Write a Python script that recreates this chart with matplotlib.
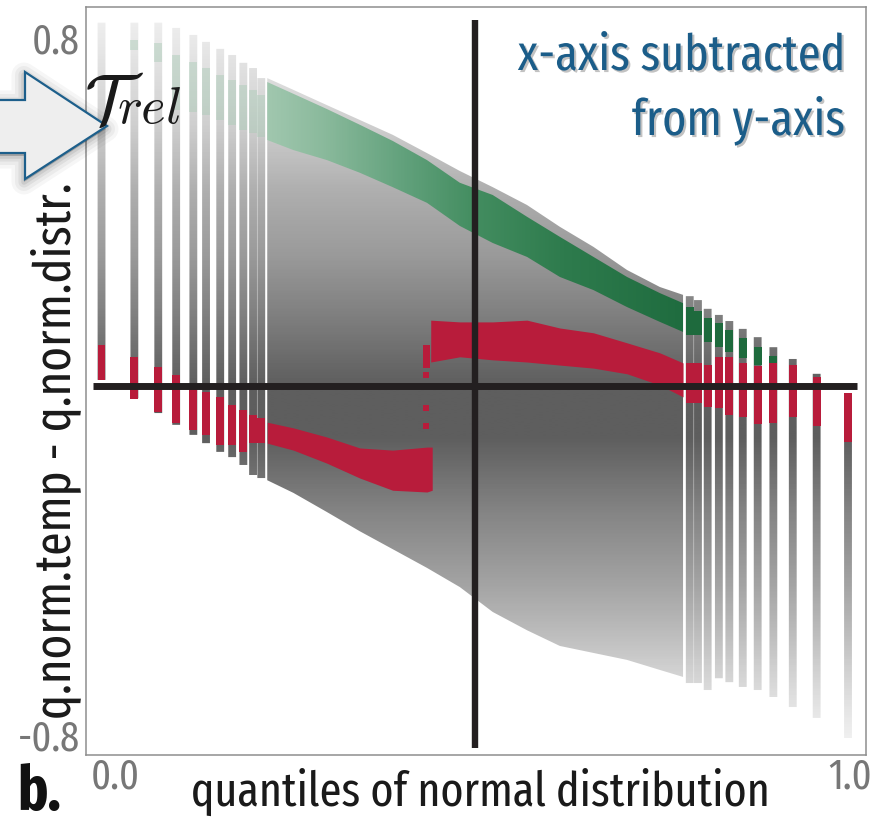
import numpy as np
import matplotlib
matplotlib.use("Agg")
import matplotlib.pyplot as plt
from matplotlib.colors import LinearSegmentedColormap, Normalize
from matplotlib.path import Path
from matplotlib.patches import Polygon
from matplotlib import patheffects as pe
from matplotlib import font_manager as fm

nan = np.nan

# ---------------- data ----------------
# discrete tail columns on the left (quantile position, value range)
left_x = [0.000, 0.044, 0.076, 0.100, 0.123, 0.140, 0.159, 0.175, 0.190, 0.203, 0.214]
left_top = [0.833, 0.833, 0.833, 0.821, 0.805, 0.789, 0.773, 0.759, 0.741, 0.729, 0.706]
left_bottom = [0.014, -0.028, -0.062, -0.089, -0.112, -0.131, -0.151, -0.163, -0.181, -0.204, -0.211]
left_green_top = [nan, 0.794, 0.787, 0.759, 0.743, 0.729, 0.713, 0.702, 0.690, 0.679, 0.667]
left_green_bottom = [nan, 0.771, 0.743, 0.633, 0.628, 0.622, 0.610, 0.599, 0.587, 0.580, 0.571]
left_red_top = [0.094, 0.067, 0.044, 0.025, 0.002, -0.014, -0.025, -0.044, -0.055, -0.067, -0.073]
left_red_bottom = [0.014, -0.030, -0.060, -0.085, -0.101, -0.112, -0.135, -0.135, -0.151, -0.131, -0.131]

# continuous central region
mid_x = [0.222, 0.257, 0.302, 0.346, 0.390, 0.436, 0.480, 0.524, 0.570, 0.614, 0.659, 0.704, 0.748, 0.779]
mid_top = [0.706, 0.679, 0.644, 0.610, 0.576, 0.534, 0.493, 0.456, 0.415, 0.365, 0.319, 0.266, 0.227, 0.209]
mid_bottom = [-0.216, -0.245, -0.289, -0.333, -0.374, -0.417, -0.461, -0.518, -0.560, -0.596, -0.612, -0.628, -0.651, -0.667]
mid_green_top = [0.697, 0.670, 0.635, 0.599, 0.562, 0.518, 0.466, 0.438, 0.388, 0.342, 0.296, 0.250, 0.213, 0.190]
mid_green_bottom = [0.564, 0.541, 0.518, 0.489, 0.456, 0.420, 0.367, 0.328, 0.296, 0.250, 0.220, 0.181, 0.147, 0.124]

# red band: lower branch, jump, upper branch
red_lo_x = [0.222, 0.257, 0.302, 0.346, 0.390, 0.436, 0.443]
red_lo_top = [-0.083, -0.096, -0.117, -0.142, -0.147, -0.140, -0.140]
red_lo_bottom = [-0.131, -0.147, -0.177, -0.211, -0.239, -0.243, -0.239]
red_jump_x = 0.435
red_jump_top = 0.094
red_jump_bottom = 0.041
red_jump_dots = [0.025, -0.050, -0.092]
red_hi_x = [0.441, 0.480, 0.524, 0.570, 0.614, 0.659, 0.704, 0.748, 0.779]
red_hi_top = [0.151, 0.147, 0.147, 0.151, 0.133, 0.122, 0.099, 0.076, 0.053]
red_hi_bottom = [0.055, 0.067, 0.060, 0.055, 0.048, 0.041, 0.028, 0.002, -0.025]

# discrete tail columns on the right
right_x = [0.788, 0.799, 0.812, 0.827, 0.841, 0.859, 0.879, 0.900, 0.926, 0.958, 1.000]
right_top = [0.206, 0.197, 0.177, 0.163, 0.149, 0.131, 0.112, 0.089, 0.062, 0.028, -0.016]
right_bottom = [-0.681, -0.681, -0.697, -0.670, -0.679, -0.690, -0.697, -0.713, -0.736, -0.761, -0.807]
right_green_top = [0.181, 0.172, 0.156, 0.144, 0.128, 0.110, 0.089, 0.069, nan, nan, nan]
right_green_bottom = [0.117, 0.117, 0.101, 0.089, 0.078, 0.064, 0.048, 0.053, nan, nan, nan]
right_red_top = [0.053, 0.053, 0.048, 0.067, 0.067, 0.053, 0.046, 0.053, 0.048, 0.021, -0.016]
right_red_bottom = [-0.039, -0.039, -0.048, -0.050, -0.067, -0.071, -0.087, -0.085, -0.071, -0.092, -0.128]

y_ticks = [-0.8, 0.8]
y_tick_labels = ["-0.8", "0.8"]
x_tick_labels = ["0.0", "1.0"]

# ---------------- style ----------------
names = {f.name for f in fm.fontManager.ttflist}
COND = "DejaVu Sans"
for cand in ("Fira Sans Extra Condensed", "Fira Sans Condensed", "PT Sans Narrow",
             "Roboto Condensed", "Archivo Narrow", "Asap Condensed"):
    if cand in names:
        COND = cand
        break
plt.rcParams["font.family"] = [COND, "DejaVu Sans"]

W, H = 883, 821
fig = plt.figure(figsize=(W / 100, H / 100), dpi=100)
renderer = fig.canvas.get_renderer()


def fx(px):
    return px / W


def fy(py):
    return 1 - py / H


def fit(t, target_px, along="width"):
    """Scale a text's font size so its extent spans target_px pixels."""
    bb = t.get_window_extent(renderer)
    cur = bb.width if along == "width" else bb.height
    t.set_fontsize(t.get_fontsize() * target_px / cur)
    return t


def stop_cmap(name, stops):
    lo, hi = stops[0][0], stops[-1][0]
    cmap = LinearSegmentedColormap.from_list(name, [((v - lo) / (hi - lo), c) for v, c in stops])
    return cmap, Normalize(lo, hi)


ax = fig.add_axes([fx(86), fy(755), fx(866) - fx(86), fy(7) - fy(755)])
XMIN, XMAX = -0.0208, 1.0241
YMIN, YMAX = -0.846, 0.869
ax.set_xlim(XMIN, XMAX)
ax.set_ylim(YMIN, YMAX)
for s in ax.spines.values():
    s.set_color("#8e8e8e")
    s.set_linewidth(1.1)

COLW = 0.0105
RED = "#b81c3b"

# grey density shading, clipped to the columns and the central region
grey_stops = [(-0.85, "#f6f6f6"), (-0.75, "#e6e6e6"), (-0.65, "#d0d0d0"), (-0.55, "#b8b8b8"),
              (-0.45, "#a2a2a2"), (-0.30, "#868686"), (-0.12, "#5e5e5e"), (0.00, "#5e5e5e"),
              (0.15, "#7d7d7d"), (0.30, "#9a9a9a"), (0.45, "#afafaf"), (0.60, "#cfcfcf"),
              (0.75, "#e3e3e3"), (0.87, "#f3f3f3")]
grey_cmap, grey_norm = stop_cmap("dens", grey_stops)

col_x = np.array(left_x + right_x)
col_top = np.array(left_top + right_top)
col_bot = np.array(left_bottom + right_bottom)
bars = ax.bar(col_x, col_top - col_bot, bottom=col_bot, width=COLW, color="none", lw=0)
mid_poly = ax.fill_between(mid_x, mid_bottom, mid_top, color="none", lw=0)

paths = [r.get_patch_transform().transform_path(r.get_path()) for r in bars]
paths.append(mid_poly.get_paths()[0])
clip = Path.make_compound_path(*paths)

yy = np.linspace(YMIN, YMAX, 600)[:, None]
im = ax.imshow(yy, extent=[XMIN, XMAX, YMIN, YMAX], origin="lower", aspect="auto",
               cmap=grey_cmap, norm=grey_norm, interpolation="bilinear", zorder=1)
im.set_clip_path(clip, ax.transData)

# green band
green_stops = [(0.20, "#a7cbb4"), (0.30, "#89b99b"), (0.40, "#63a27d"), (0.50, "#438d60"),
               (0.62, "#2e7b4d"), (0.78, "#1f6c3f"), (1.00, "#1c663a")]
green_cmap, green_norm = stop_cmap("grn", green_stops)
g_poly = ax.fill_between(mid_x, mid_green_bottom, mid_green_top, color="none", lw=0)
xx = np.linspace(XMIN, XMAX, 600)[None, :]
gim = ax.imshow(xx, extent=[XMIN, XMAX, YMIN, YMAX], origin="lower", aspect="auto",
                cmap=green_cmap, norm=green_norm, interpolation="bilinear", zorder=2)
gim.set_clip_path(g_poly.get_paths()[0], ax.transData)

lg_t, lg_b = np.array(left_green_top), np.array(left_green_bottom)
m = ~np.isnan(lg_t)
ax.bar(np.array(left_x)[m], (lg_t - lg_b)[m], bottom=lg_b[m], width=COLW,
       color="#a9cbb6", alpha=0.45, lw=0, zorder=2)
rg_t, rg_b = np.array(right_green_top), np.array(right_green_bottom)
m = ~np.isnan(rg_t)
ax.bar(np.array(right_x)[m], (rg_t - rg_b)[m], bottom=rg_b[m], width=COLW,
       color="#1e6a3d", lw=0, zorder=2)

# red band
ax.fill_between(red_lo_x, red_lo_bottom, red_lo_top, color=RED, lw=0, zorder=3)
ax.fill_between(red_hi_x, red_hi_bottom, red_hi_top, color=RED, lw=0, zorder=3)
ax.bar([red_jump_x], [red_jump_top - red_jump_bottom], bottom=[red_jump_bottom],
       width=0.009, color=RED, lw=0, zorder=3)
ax.scatter([red_jump_x] * len(red_jump_dots), red_jump_dots, marker="s", s=24,
           color=RED, lw=0, zorder=3)
for xs, t, b in ((left_x, left_red_top, left_red_bottom), (right_x, right_red_top, right_red_bottom)):
    t, b = np.array(t), np.array(b)
    ax.bar(xs, t - b, bottom=b, width=COLW, color=RED, lw=0, zorder=3)

# reference cross
ax.plot([-0.011, 1.012], [0, 0], color="#231f20", lw=5.0, solid_capstyle="butt", zorder=5)
ax.plot([0.5, 0.5], [-0.830, 0.839], color="#231f20", lw=4.6, solid_capstyle="butt", zorder=5)

# ticks: one shared size, taken from the width of the "0.8" label
TICK_KW = dict(color="#777777")
ax.set_xticks([])
ax.set_yticks(y_ticks)
ax.set_yticklabels(y_tick_labels, **TICK_KW)
ax.tick_params(axis="y", length=0, pad=4.5)
ylbls = ax.get_yticklabels()
for lbl in ylbls:
    lbl.set_fontsize(30)
fit(ylbls[1], 48)
TICK_FS = ylbls[1].get_fontsize()
ylbls[0].set_fontsize(TICK_FS)
for xv, lab, dx in ((0.0, x_tick_labels[0], 9.7), (1.0, x_tick_labels[1], 1.4)):
    ax.annotate(lab, xy=(xv, 0), xycoords=("data", "axes fraction"), xytext=(dx, -16),
                textcoords="offset points", ha="center", va="center", fontsize=TICK_FS,
                annotation_clip=False, **TICK_KW)

# axis titles
xl = fig.text(fx(480), fy(806), "quantiles of normal distribution", ha="center", va="baseline",
              fontsize=37.5, color="#1a1a1a")
fit(xl, 580)
yl = fig.text(fx(70), fy(451), "q.norm.temp - q.norm.distr.", rotation=90, rotation_mode="anchor",
              ha="center", va="baseline", fontsize=39, color="#1a1a1a")
fit(yl, 538, along="height")
bl = fig.text(fx(17), fy(810), "b.", ha="left", va="baseline", fontsize=42, fontweight="bold",
              color="#111111")
fit(bl, 44)

# annotation in the upper right
shadow = [pe.withSimplePatchShadow(offset=(1.5, -1.5), shadow_rgbFace="#9a9a9a", alpha=0.6)]
t1 = fig.text(fx(845), fy(70), "x-axis subtracted", ha="right", va="baseline", fontsize=37,
              color="#1b5d89", path_effects=shadow)
fit(t1, 327)
t2 = fig.text(fx(845), fy(135), "from y-axis", ha="right", va="baseline",
              fontsize=t1.get_fontsize(), color="#1b5d89", path_effects=shadow)

# block arrow pointing at the top of the panel
arrow_px = [(-6, 100), (25, 100), (25, 72), (107, 126), (25, 179), (25, 153), (-6, 153)]
arrow_fig = [(fx(x), fy(y)) for x, y in arrow_px]
shadow_fig = [(fx(x - 1), fy(y + 3)) for x, y in arrow_px]
for lw, a in ((18, 0.035), (13, 0.045), (8, 0.06), (4, 0.08)):
    fig.add_artist(Polygon(shadow_fig, closed=True, transform=fig.transFigure,
                           fc=(0, 0, 0, a), ec=(0, 0, 0, a), lw=lw, joinstyle="round", zorder=18))
fig.add_artist(Polygon(arrow_fig, closed=True, transform=fig.transFigure, fc="#eeeeee",
                       ec="#1d5f8b", lw=1.6, joinstyle="miter", zorder=20))

fig.text(fx(84), fy(123), r"$\mathcal{T}$", math_fontfamily="cm", fontsize=50,
         ha="left", va="baseline", color="#1a1a1a", zorder=21)
fig.text(fx(117), fy(123), r"$rel$", math_fontfamily="cm", fontsize=38,
         ha="left", va="baseline", color="#1a1a1a", zorder=21)

fig.savefig("out.png", dpi=100)
